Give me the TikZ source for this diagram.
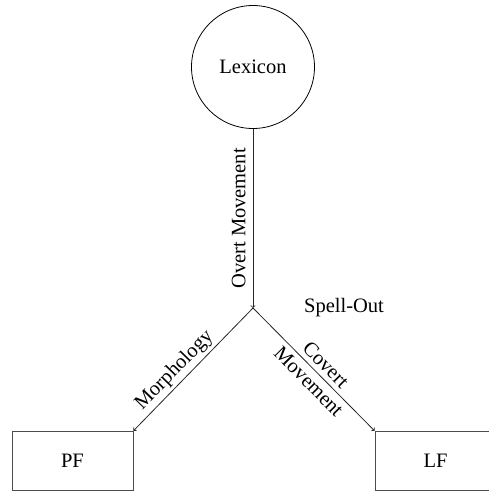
\documentclass[tikz,border=0pt]{standalone}
\usepackage{fontspec}
\setmainfont{Liberation Serif}
\begin{document}
\begin{tikzpicture}[x=1pt,y=1pt,
  every node/.style={font=\fontsize{20.5}{23}\selectfont},
  conn/.style={draw=black!85, line width=0.8pt, ->},
  boxnode/.style={draw=black!70, line width=0.8pt, minimum width=121pt, minimum height=59.5pt, inner sep=0pt}]
\useasboundingbox (0,0) rectangle (489,-491);
\node[draw, circle, line width=0.8pt, minimum size=123pt, inner sep=0pt] (lex) at (253,-67) {Lexicon};
\coordinate (so) at (253,-308);
\node[boxnode] (pf) at (72.5,-461) {PF};
\node[boxnode] (lf) at (435.5,-461) {LF};
\node (spell) at (344,-308) {Spell-Out};
\draw[conn] (lex.south) -- (so) node[midway, rotate=90, anchor=south, inner sep=7pt] {Overt Movement};
\draw[conn] (so) -- (pf.north east) node[pos=0.58, sloped, above, inner sep=3pt, allow upside down=false] {Morphology};
\draw[conn] (so) -- (lf.north west) node[pos=0.53, sloped, align=center, font=\fontsize{20.5}{24}\selectfont] {Covert\\Movement};
\end{tikzpicture}
\end{document}
